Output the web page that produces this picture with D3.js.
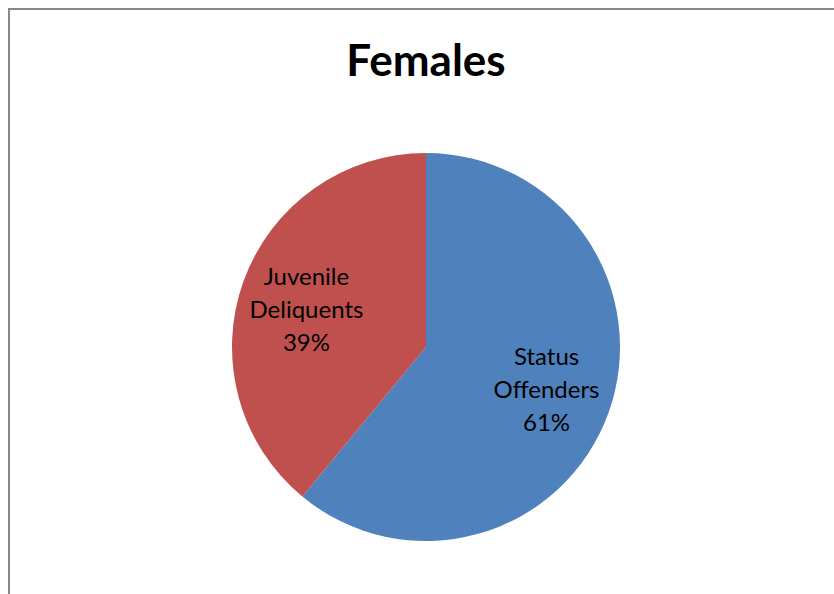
<!DOCTYPE html>
<html>
<head>
<meta charset="utf-8">
<script src="https://cdn.jsdelivr.net/npm/d3@7"></script>
<style>
    body { margin: 0; background: #fff; }
    svg text { font-family: Lato, "Open Sans", sans-serif; }
</style>
</head>
<body>
<div id="chart"></div>
<script>
    // data
    var categories = ['Status Offenders', 'Juvenile Deliquents'];
    var labelLines = [['Status', 'Offenders'], ['Juvenile', 'Deliquents']];
    var values = [61, 39];
    var colors = ['#4F81BD', '#C0504D'];
    var title = 'Females';

    var width = 834, height = 594;
    var cx = 426, cy = 347, radius = 194;

    var svg = d3.select('#chart')
        .append('svg')
            .attr('width', width)
            .attr('height', height)
    ;

    // chart frame (runs off the right / bottom edge)
    svg.append('rect')
        .attr('x', 9)
        .attr('y', 9)
        .attr('width', 840)
        .attr('height', 600)
        .style('fill', 'none')
        .style('stroke', '#878787')
        .style('stroke-width', 2)
    ;

    svg.append('text')
        .attr('x', cx)
        .attr('y', 76)
        .attr('text-anchor', 'middle')
        .style('font-size', '44px')
        .style('font-weight', 'bold')
        .text(title)
    ;

    var data = categories.map(function(c, i) {
        return { name: c, value: values[i], color: colors[i], lines: labelLines[i] };
    });

    var pie = d3.pie()
        .sort(null)
        .value(function(d) { return d.value; })
    ;

    var arc = d3.arc().innerRadius(0).outerRadius(radius);
    var labelArc = d3.arc().innerRadius(126).outerRadius(126);
    // excel nudges the smaller slice's label down a bit
    var labelNudge = [[2, 0], [-1, 6]];

    var g = svg.append('g').attr('transform', 'translate(' + cx + ',' + cy + ')');

    g.selectAll('path')
        .data(pie(data))
        .enter().append('path')
            .attr('d', arc)
            .style('fill', function(d) { return d.data.color; })
    ;

    var labels = g.selectAll('text')
        .data(pie(data))
        .enter().append('text')
            .attr('transform', function(d, i) {
                var c = labelArc.centroid(d);
                return 'translate(' + (c[0] + labelNudge[i][0]) + ',' + (c[1] + labelNudge[i][1]) + ')';
            })
            .attr('text-anchor', 'middle')
            .style('font-size', '24px')
            .style('fill', '#000')
    ;

    labels.each(function(d) {
        var t = d3.select(this);
        var lines = d.data.lines.concat([d.data.value + '%']);
        lines.forEach(function(l, i) {
            t.append('tspan')
                .attr('x', 0)
                .attr('y', (i - 1) * 33 + 8)
                .text(l);
        });
    });
</script>
</body>
</html>
